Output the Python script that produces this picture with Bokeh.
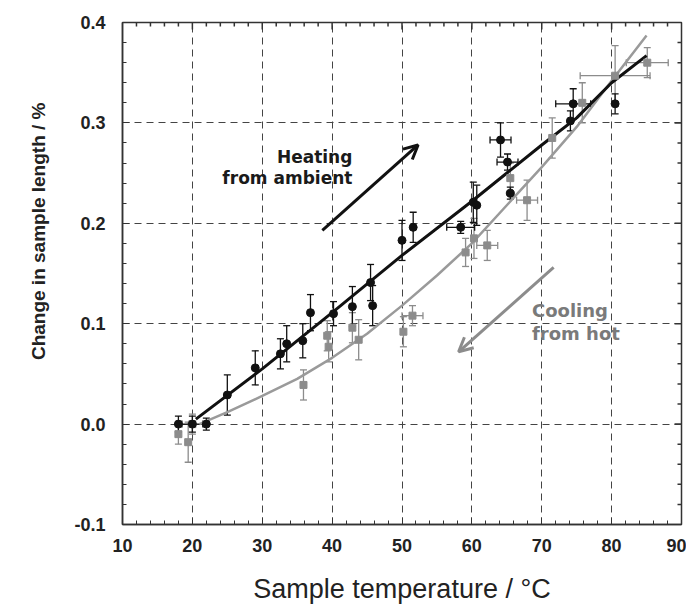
import math
from bokeh.plotting import figure
from bokeh.models import (ColumnDataSource, Whisker, TeeHead, Arrow, OpenHead, Label, Title,
                          Range1d, SingleIntervalTicker, PrintfTickFormatter)
from bokeh.embed import file_html
from bokeh.resources import INLINE

# ---------------- data ----------------
heat_x = [18, 20, 22, 25, 29, 32.6, 33.5, 35.8, 36.9, 40.2, 42.9, 45.5, 45.8, 50.0, 51.6,
          58.4, 60.2, 60.7, 64.1, 65.1, 65.5, 74.1, 74.5, 80.5]
heat_y = [0.0, 0.0, 0.0, 0.029, 0.056, 0.070, 0.080, 0.083, 0.111, 0.110, 0.117, 0.141, 0.118,
          0.183, 0.196, 0.196, 0.221, 0.218, 0.283, 0.261, 0.230, 0.302, 0.319, 0.319]
heat_yerr = [0.008, 0.008, 0.006, 0.020, 0.017, 0.015, 0.018, 0.017, 0.018, 0.012, 0.020, 0.018,
             0.020, 0.020, 0.015, 0.006, 0.020, 0.020, 0.017, 0.008, 0.006, 0.010, 0.015, 0.010]
heat_xerr = [0, 1.5, 0, 0, 0, 0, 0, 0, 0, 0, 0, 0, 0, 0, 0,
             2.0, 0, 0, 1.5, 1.5, 0, 0, 2.5, 0]

cool_x = [18, 19.4, 20, 35.9, 39.3, 39.5, 42.9, 43.8, 50.2, 51.5, 59.1, 60.3, 62.2,
          65.5, 67.9, 71.5, 75.8, 80.5, 85.1]
cool_y = [-0.010, -0.018, 0.0, 0.039, 0.088, 0.077, 0.096, 0.084, 0.092, 0.108, 0.171, 0.185,
          0.178, 0.245, 0.223, 0.285, 0.320, 0.347, 0.360]
cool_yerr = [0.010, 0.020, 0.010, 0.015, 0.015, 0.015, 0.015, 0.020, 0.015, 0.010, 0.014, 0.020,
             0.015, 0.015, 0.020, 0.020, 0.020, 0.030, 0.015]
cool_xerr = [0, 0, 0, 0, 0, 0, 0, 0, 0, 1.5, 0, 0, 1.5, 0, 1.5, 0, 0, 5.0, 3.0]

heat_fit_x = [20.5, 30, 40, 50, 60, 70, 75, 80, 85]
heat_fit_y = [0.005, 0.055, 0.111, 0.168, 0.222, 0.278, 0.305, 0.340, 0.367]

cool_fit_x = [21, 25, 30, 35, 40, 45, 50, 55, 60, 65, 70, 75, 80, 85]
cool_fit_y = [0.0, 0.012, 0.028, 0.045, 0.066, 0.090, 0.118, 0.148, 0.180, 0.218, 0.256,
              0.296, 0.342, 0.387]

heat_arrow = (38.6, 0.193, 52.3, 0.278)
cool_arrow = (71.7, 0.156, 58.1, 0.072)
heat_text = ["Heating", "from ambient"]
cool_text = ["Cooling", "from hot"]

x_major_ticks = [20, 30, 40, 50, 60, 70, 80]
y_major_ticks = [0.0, 0.1, 0.2, 0.3]
x_minor_ticks = [t for t in range(12, 90, 2) if t % 10 != 0]
y_minor_ticks = [round(-0.08 + 0.02 * i, 2) for i in range(24) if i % 5 != 4]

BLACK = "#111111"
GREY = "#8c8c8c"
FONT = "Liberation Sans"
X0, X1, Y0, Y1 = 10, 90, -0.1, 0.4

# ---------------- figure ----------------
p = figure(width=686, height=609, x_range=Range1d(X0, X1), y_range=Range1d(Y0, Y1),
           output_backend="svg", toolbar_location=None,
           min_border_left=122, min_border_right=5, min_border_top=22, min_border_bottom=85)
p.background_fill_color = "white"
p.border_fill_color = "white"
p.outline_line_color = "#333333"
p.outline_line_width = 1.5

p.xaxis.ticker = SingleIntervalTicker(interval=10, num_minor_ticks=5)
p.yaxis.ticker = SingleIntervalTicker(interval=0.1, num_minor_ticks=5)
p.yaxis.formatter = PrintfTickFormatter(format="%.1f")

for ax in (p.xaxis[0], p.yaxis[0]):
    ax.major_tick_in = 7
    ax.major_tick_out = 0
    ax.minor_tick_in = 4
    ax.minor_tick_out = 0
    ax.axis_line_color = "#333333"
    ax.axis_line_width = 1.5
    ax.major_tick_line_color = "#333333"
    ax.minor_tick_line_color = "#333333"
    ax.major_label_text_font = FONT
    ax.major_label_text_font_style = "bold"
    ax.major_label_text_font_size = "18px"
    ax.major_label_text_color = "#222222"
    ax.axis_label_text_font = FONT
    ax.axis_label_text_color = "#222222"

p.xaxis.major_label_standoff = 14
p.yaxis.major_label_standoff = 17
p.xaxis.axis_label = "Sample temperature / \u00b0C"
p.xaxis.axis_label_text_font_size = "27px"
p.xaxis.axis_label_text_font_style = "normal"
p.xaxis.axis_label_standoff = 19

# y-axis title as a side title, shifted towards the top like the original
p.add_layout(Title(text="Change in sample length / %", align="right", offset=80,
                   standoff=46, text_font=FONT, text_font_style="bold",
                   text_font_size="19px", text_color="#222222"), "left")

for g in (p.xgrid[0], p.ygrid[0]):
    g.grid_line_color = "#444444"
    g.grid_line_dash = "7 5"
    g.grid_line_width = 1

# mirror ticks on the top and right frame edges (inward)
TICK = "#333333"
p.scatter(x_major_ticks, [Y1] * len(x_major_ticks), marker="dash", angle=math.pi / 2,
          size=14, line_color=TICK, line_width=1.5)
p.scatter(x_minor_ticks, [Y1] * len(x_minor_ticks), marker="dash", angle=math.pi / 2,
          size=8, line_color=TICK, line_width=1.5)
p.scatter([X1] * len(y_major_ticks), y_major_ticks, marker="dash",
          size=14, line_color=TICK, line_width=1.5)
p.scatter([X1] * len(y_minor_ticks), y_minor_ticks, marker="dash",
          size=8, line_color=TICK, line_width=1.5)

# ---------------- error bars ----------------
def add_errors(xs, ys, yerr, xerr, color):
    src = ColumnDataSource(dict(x=xs, y=ys,
                                yl=[y - e for y, e in zip(ys, yerr)],
                                yu=[y + e for y, e in zip(ys, yerr)]))
    p.add_layout(Whisker(source=src, base="x", lower="yl", upper="yu", dimension="height",
                         line_color=color, line_width=1.3,
                         upper_head=TeeHead(size=7, line_color=color, line_width=1.3),
                         lower_head=TeeHead(size=7, line_color=color, line_width=1.3)))
    hx = [(x, y, e) for x, y, e in zip(xs, ys, xerr) if e > 0]
    if hx:
        src2 = ColumnDataSource(dict(y=[t[1] for t in hx],
                                     xl=[t[0] - t[2] for t in hx],
                                     xu=[t[0] + t[2] for t in hx]))
        p.add_layout(Whisker(source=src2, base="y", lower="xl", upper="xu", dimension="width",
                             line_color=color, line_width=1.3,
                             upper_head=TeeHead(size=7, line_color=color, line_width=1.3),
                             lower_head=TeeHead(size=7, line_color=color, line_width=1.3)))

add_errors(cool_x, cool_y, cool_yerr, cool_xerr, GREY)
add_errors(heat_x, heat_y, heat_yerr, heat_xerr, BLACK)

# ---------------- fit curves ----------------
p.line(cool_fit_x, cool_fit_y, line_color="#9a9a9a", line_width=2.5)
p.line(heat_fit_x, heat_fit_y, line_color=BLACK, line_width=3)

# ---------------- markers ----------------
p.scatter(cool_x, cool_y, marker="square", size=7, fill_color=GREY, line_color=GREY)
p.scatter(heat_x, heat_y, marker="circle", size=8, fill_color=BLACK, line_color=BLACK)

# ---------------- annotations ----------------
p.add_layout(Arrow(x_start=heat_arrow[0], y_start=heat_arrow[1], x_end=heat_arrow[2], y_end=heat_arrow[3],
                   line_color=BLACK, line_width=3,
                   end=OpenHead(size=14, line_color=BLACK, line_width=3)))
p.add_layout(Arrow(x_start=cool_arrow[0], y_start=cool_arrow[1], x_end=cool_arrow[2], y_end=cool_arrow[3],
                   line_color=GREY, line_width=3,
                   end=OpenHead(size=14, line_color=GREY, line_width=3)))

for txt, yy in zip(heat_text, (0.266, 0.245)):
    p.add_layout(Label(x=42.9, y=yy, text=txt, text_align="right", text_baseline="middle",
                       text_font="DejaVu Sans", text_font_style="bold", text_font_size="17px",
                       text_color="#1a1a1a"))
for txt, yy in zip(cool_text, (0.113, 0.090)):
    p.add_layout(Label(x=68.6, y=yy, text=txt, text_align="left", text_baseline="middle",
                       text_font="DejaVu Sans", text_font_style="bold", text_font_size="18px",
                       text_color="#7a7a7a"))

open("out.html", "w").write(file_html(p, INLINE))
